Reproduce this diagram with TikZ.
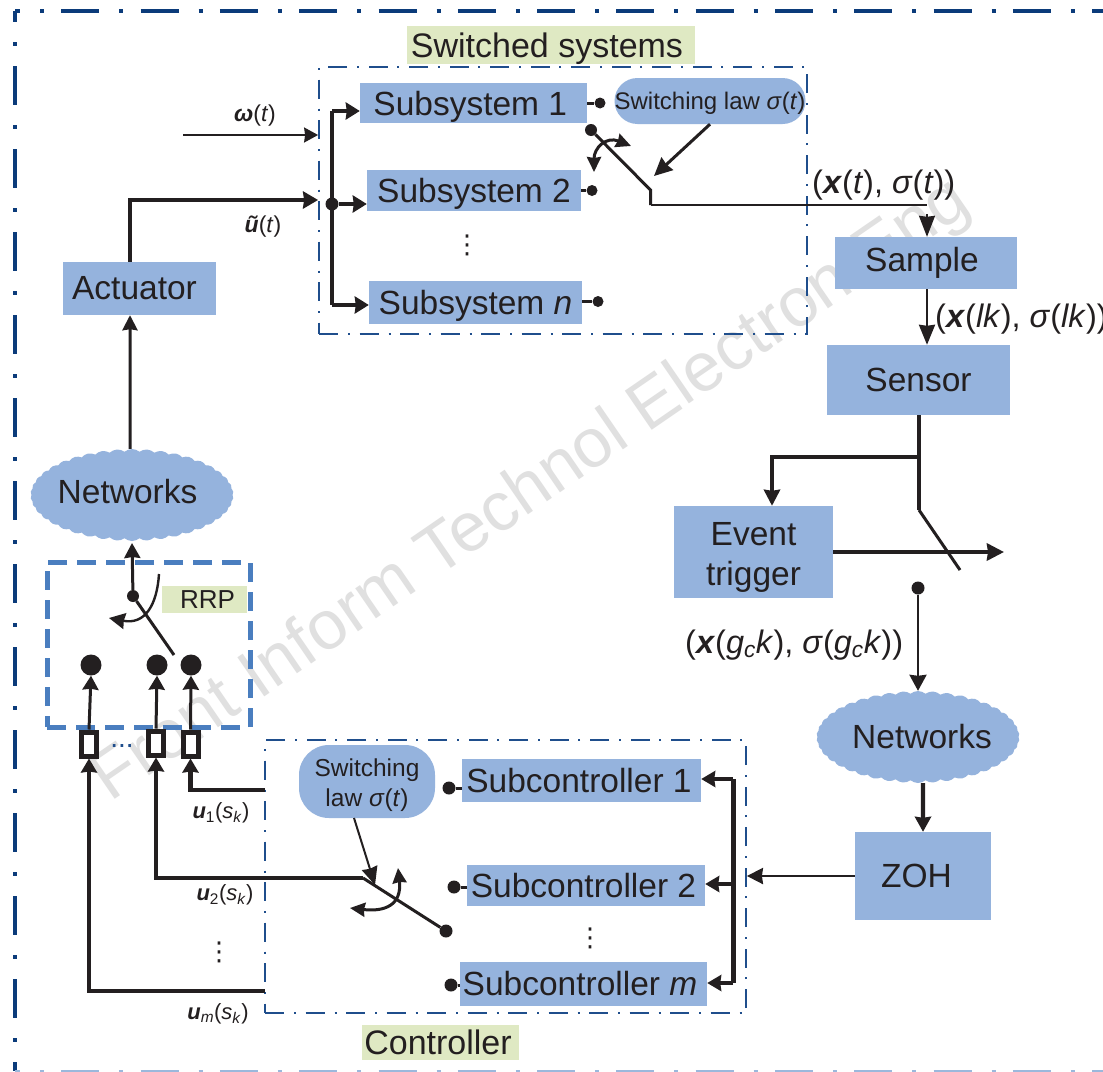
\documentclass[tikz,border=0pt]{standalone}
\usepackage{fontspec}
\setmainfont{Liberation Sans}
\newfontfamily\symfont{DejaVu Sans}
\usetikzlibrary{arrows.meta,shapes.symbols,calc}
\definecolor{boxblue}{HTML}{95B3DD}
\definecolor{pale}{HTML}{DFE9C3}
\definecolor{navy}{HTML}{0B3B7A}
\definecolor{midnavy}{HTML}{1F4E8C}
\definecolor{rrpblue}{HTML}{4A7EBF}
\definecolor{ink}{HTML}{231F20}
\newcommand{\bi}[1]{\textbf{\textit{#1}}}
\newcommand{\itx}[1]{\textit{#1}}
\newcommand{\fsz}[1]{\fontsize{#1pt}{1.2\dimexpr #1pt\relax}\selectfont}
\tikzset{
  x=1pt,y=-1pt,
  boxn/.style={fill=boxblue,inner sep=0pt,text=ink,font=\fsz{33.5},align=center},
  dz/.style={text depth=0pt},
  pill/.style={boxn,rounded corners=#1},
  tag/.style={fill=pale,inner sep=0pt,text=ink},
  cloudn/.style={cloud,cloud puffs=42,cloud puff arc=80,cloud ignores aspect,fill=boxblue,inner sep=0pt,
     minimum width=203pt,minimum height=92pt},
  lab/.style={inner sep=0pt,text=ink,font=\fsz{#1}},
  vdots/.style={inner sep=0pt,text=ink,font=\symfont\fontsize{26pt}{30pt}\selectfont},
  wthin/.style={draw=ink,line width=1.6pt},
  wmed/.style={draw=ink,line width=3pt},
  wthick/.style={draw=ink,line width=4.2pt},
  tip/.style 2 args={-{Stealth[length=#1pt,width=#2pt,inset=1pt]}},
  ddtip/.style={{Stealth[length=15pt,width=14pt,inset=1pt]}-{Stealth[length=15pt,width=14pt,inset=1pt]}},
  framedash/.style={draw=navy,line width=4pt,dash pattern=on 38pt off 20pt on 4pt off 17.3pt},
  sidedash/.style={draw=navy,line width=4.5pt,dash pattern=on 39pt off 20pt on 4pt off 20pt},
  boxdash/.style={draw=midnavy,line width=1.8pt,dash pattern=on 19pt off 10pt on 2pt off 9.5pt},
  rrpdash/.style={draw=rrpblue,line width=5pt,dash pattern=on 19pt off 10pt},
  bigdot/.style={circle,fill=ink,inner sep=0pt,minimum size=#1pt},
  bigdot/.default=12,
  swbox/.style={draw=ink,fill=white,line width=5pt,inner sep=0pt,minimum width=15pt,minimum height=24pt},
}
\begin{document}
\begin{tikzpicture}
\useasboundingbox (0,0) rectangle (1103,1071);
\clip (0,0) rectangle (1103,1071);
\fill[white] (0,0) rectangle (1103,1071);
% watermark
\node[rotate=34.5,text=black!12,font=\fsz{69},inner sep=0pt] (wm) at (532,491) {Front Inform Technol Electron Eng};
% outer frame
\coordinate (ftl) at (15,11);
\coordinate (ftr) at (1103,11);
\coordinate (fbl) at (15,1071);
\coordinate (fbr) at (1103,1071);
\draw[framedash,dash phase=33pt] (ftl) -- (ftr);
\draw[sidedash,dash phase=28pt] (ftl) -- (fbl);
\draw[framedash,draw=rrpblue!55,line width=3pt,dash phase=33pt] (fbl) -- (fbr);
% group boxes
\node[boxdash,inner sep=0pt,minimum width=488pt,minimum height=267pt] (swsys) at (563,200.5) {};
\node[boxdash,inner sep=0pt,minimum width=481pt,minimum height=273pt] (ctrl) at (505.5,876.5) {};
\node[rrpdash,inner sep=0pt,minimum width=203pt,minimum height=165pt] (rrp) at (148.5,644.5) {};
% labels with pale backgrounds
\node[tag,dz,minimum width=288pt,minimum height=38pt,font=\fsz{34}] (swlab) at (551,45) {Switched systems\kern8pt};
\node[tag,minimum width=157pt,minimum height=35pt,font=\fsz{34}] (ctlab) at (440.5,1042.5) {Controller\kern5pt};
\node[tag,minimum width=85pt,minimum height=27pt,font=\fsz{26}] (rrplab) at (204.5,599.5) {\kern6pt RRP};
% blocks
\node[boxn,dz,minimum width=227pt,minimum height=40pt] (s1) at (473.5,103) {Subsystem 1\kern6.5pt};
\node[boxn,dz,minimum width=214pt,minimum height=41pt] (s2) at (474,190.5) {Subsystem 2};
\node[boxn,dz,minimum width=213pt,minimum height=43pt] (sn) at (475.5,302.5) {Subsystem \itx{n}};
\node[boxn,minimum width=153pt,minimum height=53pt] (act) at (139.5,288.5) {\raisebox{-1.5pt}{Actuator}\kern10pt};
\node[boxn,minimum width=182pt,minimum height=52pt] (samp) at (926,263) {Sample\kern8pt};
\node[boxn,minimum width=183pt,minimum height=70pt] (sens) at (918.5,380) {Sensor};
\node[boxn,minimum width=159pt,minimum height=92pt,font=\fontsize{33.5pt}{40pt}\selectfont] (evt) at (753.5,552) {\rule{0pt}{33pt}Event\\trigger};
\node[boxn,minimum width=136pt,minimum height=88pt] (zoh) at (923,876) {ZOH\kern13pt};
\node[boxn,minimum width=239pt,minimum height=43pt] (c1) at (581.5,780.5) {Subcontroller 1\kern5pt};
\node[boxn,minimum width=238pt,minimum height=41pt] (c2) at (586,885.5) {Subcontroller 2\kern5pt};
\node[boxn,minimum width=247pt,minimum height=44pt] (cm) at (583.5,984) {Subcontroller \itx{m}\kern7pt};
\node[pill=23pt,dz,minimum width=191pt,minimum height=46pt,font=\fsz{24}] (law1) at (710,101) {Switching law \itx{σ}(\itx{t})};
\node[pill=30pt,minimum width=136pt,minimum height=73pt,font=\fontsize{24.5pt}{29.5pt}\selectfont] (law2) at (367,781.5) {\rule{0pt}{25pt}Switching\\law \itx{σ}(\itx{t})};
\node[cloudn] (net1) at (132,495) {};
\node[lab=33.5] (net1t) at (127.5,492) {Networks};
\node[cloudn] (net2) at (918,737) {};
\node[lab=33.5] (net2t) at (922,737) {Networks};
% system inputs
\coordinate (wstart) at (183,135);
\draw[wthin,tip={14}{15}] (wstart) -- (wstart -| swsys.west);
\node[lab=23] (wlab) at (255,116) {\bi{ω}(\itx{t})};
\coordinate (ucorner) at (130,200);
\draw[wthick,tip={15}{17}] ([xshift=-9.5pt]act.north) -- (ucorner) -- (ucorner -| swsys.west);
\node[lab=23] (ulab) at (263,227) {\bi{ũ}(\itx{t})};
% trunk
\coordinate (ttop) at (332,111);
\coordinate (tbot) at (332,305);
\node[bigdot=13] (tj) at (332,204) {};
\draw[wthick] (ttop) -- (tbot);
\draw[wthick,tip={14}{17}] (ttop) -- (ttop -| s1.west);
\draw[wthick,tip={14}{17}] (tj) -- (tj -| s2.west);
\draw[wthick,tip={14}{17}] (tbot) -- (tbot -| sn.west);
\node[vdots] (vd1) at (467,245) {⋮};
% output contacts
\node[bigdot=11] (d1) at (600,103) {};
\node[bigdot=11] (d2) at (592,190.5) {};
\node[bigdot=11] (dn) at (598,301.5) {};
\draw[wmed] (s1.east |- d1) -- (d1);
\draw[wmed] (s2.east |- d2) -- (d2);
\draw[wmed] (sn.east |- dn) -- (dn);
% switch
\node[bigdot=12] (swp) at (591,130) {};
\coordinate (swk) at (650.5,190);
\coordinate (swc) at (650.5,205);
\coordinate (swe) at (927,205);
\draw[wmed] (swp) -- (swk) -- (swc);
\draw[wmed,line width=2.2pt] (swc) -- (swe);
\coordinate (samparrow) at (927,214);
\draw[wthin,tip={21}{16}] (samparrow) -- (samparrow |- samp.north);
\draw[wmed,tip={18}{17}] (law1.south) -- (654,176);
\draw[wmed,ddtip] (594,172) .. controls (594,148) and (606,136) .. (631,146);
\node[lab=32.5,anchor=west] (xt) at (812,185) {(\bi{x}(\itx{t}), \itx{σ}(\itx{t}))};
% sample to sensor
\draw[wthin,line width=2.4pt,tip={20}{16}] ([xshift=1pt]samp.south) -- ([xshift=8.5pt]sens.north);
\node[lab=32.5,anchor=west] (xl) at (935,319) {(\bi{x}(\itx{lk}), \itx{σ}(\itx{lk}))};
% sensor and trigger
\coordinate (sw2a) at (919,510);
\coordinate (sw2b) at (960,570);
\coordinate (bj) at (919,457);
\coordinate (bc) at (772,457);
\coordinate (evout) at (1004,552);
\draw[wthick] (sens.south) ++(0.5,0) -- (sw2a);
\draw[wmed,line width=3pt] (sw2a) -- (sw2b);
\draw[wthick,tip={16}{16}] (bj) -- (bc) -- (bc |- evt.north);
\draw[wthick,tip={17}{17}] (evt.east) -- (evout);
\node[bigdot=13] (d3) at (918,588) {};
\draw[wmed,line width=2.4pt,tip={16}{17}] (d3) -- (d3 |- net2.north);
\node[lab=32.5,anchor=west] (xg) at (685,645) {(\bi{x}(\itx{g}\textsubscript{\itx{c}}\itx{k}), \itx{σ}(\itx{g}\textsubscript{\itx{c}}\itx{k}))};
\draw[wthick,tip={15}{16}] (net2.south) ++(5,0) -- (zoh.north);
% controller input
\coordinate (busT) at (733,779);
\coordinate (busB) at (733,983);
\draw[wthin,line width=2.8pt,tip={16}{16}] (zoh.west) -- (ctrl.east |- zoh.west);
\draw[wthick,line width=5pt] (busT) -- (busB);
\draw[wthick,tip={14}{16}] (busT) -- (busT -| c1.east);
\draw[wthick,tip={14}{16}] (733,884) -- (c2.east |- 733,884);
\draw[wthick,tip={14}{16}] (busB) -- (busB -| cm.east);
\node[vdots] (vd2) at (590,938) {⋮};
% controller contacts
\node[bigdot=13] (e1) at (449,788) {};
\node[bigdot=13] (e2) at (454,887) {};
\node[bigdot=13] (em) at (451,985) {};
\draw[wmed] (e1) -- (e1 -| c1.west);
\draw[wmed] (e2) -- (e2 -| c2.west);
\draw[wmed] (em) -- (em -| cm.west);
% controller switch
\node[bigdot=13] (swq) at (446,931) {};
\coordinate (sq) at (363,878);
\draw[wmed] (swq) -- (sq);
\draw[wthin,line width=2pt,tip={18}{16}] (354,818) -- (375,885);
\draw[wmed,ddtip] (350,908) .. controls (385,912) and (402,905) .. (398,868);
% outputs
\node[swbox] (b1) at (89,744) {};
\node[swbox] (b2) at (156,743) {};
\node[swbox] (b3) at (190.5,744) {};
\node[lab=28,text=midnavy,anchor=base] (bdots) at (122,747) {...};
\coordinate (u1s) at (265,790);
\coordinate (ums) at (265,991);
\draw[wthick,tip={14}{16}] (u1s) -- (u1s -| b3.south) -- (b3.south);
\draw[wthick,tip={14}{16}] (sq) -- (sq -| b2.south) -- (b2.south);
\draw[wthick,tip={14}{16}] (ums) -- (ums -| b1.south) -- (b1.south);
\node[lab=22] (u1) at (221,813) {\bi{u}\textsubscript{1}(\itx{s}\textsubscript{\itx{k}})};
\node[lab=22] (u2) at (225,895) {\bi{u}\textsubscript{2}(\itx{s}\textsubscript{\itx{k}})};
\node[lab=22] (um) at (218,1014) {\bi{u}\textsubscript{\itx{m}}(\itx{s}\textsubscript{\itx{k}})};
\node[vdots] (vd3) at (219,952) {⋮};
% RRP contacts
\node[bigdot=21] (p1) at (91,665) {};
\node[bigdot=21] (p2) at (157,665) {};
\node[bigdot=21] (p3) at (191,665) {};
\draw[wmed,tip={14}{16}] (b1.north) -- (p1.south);
\draw[wmed,tip={14}{16}] (b2.north) -- (p2.south);
\draw[wmed,tip={14}{16}] (b3.north) -- (p3.south);
\node[bigdot=12] (rsw) at (133,596) {};
\coordinate (rsw2) at (174,655);
\draw[wmed] (rsw) -- (rsw2);
\draw[wmed,tip={15}{16}] (rsw) -- (132,543);
\draw[wmed,line width=2.4pt,tip={16}{16}] (159,574) .. controls (157,605) and (145,625) .. (109,618);
% actuator feed
\draw[wmed,tip={15}{15}] ([xshift=-2pt]net1.north) -- ([xshift=-9.5pt]act.south);
\end{tikzpicture}
\end{document}
